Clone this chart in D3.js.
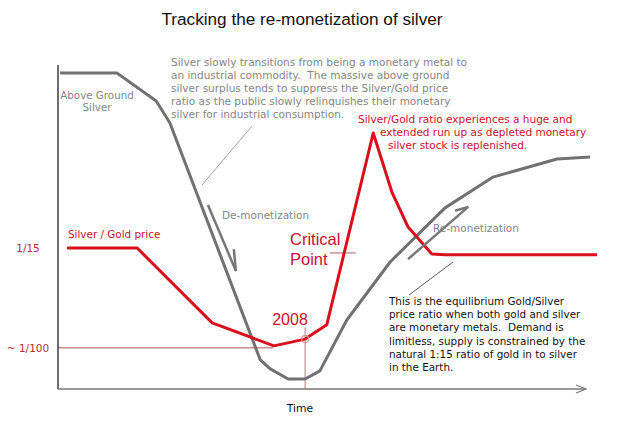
<!DOCTYPE html>
<html>
<head>
<meta charset="utf-8">
<script src="https://cdn.jsdelivr.net/npm/d3@7"></script>
<style>
  body { margin: 0; background: #fff; }
  text { font-family: "DejaVu Sans", Verdana, sans-serif; white-space: pre; }
  text.lib { font-family: "Liberation Sans", Arial, sans-serif; }
</style>
</head>
<body>
<script>
var svgWidth = 620;
var svgHeight = 438;

// above ground silver (gray) - time vs level
var silverTime = [0.4, 11.2, 18.6, 21.2, 38.3, 40.2, 43.6, 46.8, 49.6, 54.7, 62.9, 73.3, 82.4, 94.5, 100.8];
var silverLevel = [97.5, 97.5, 88.9, 82.1, 9.0, 6.2, 3.1, 3.1, 5.6, 21.3, 39.2, 55.9, 65.4, 71.0, 71.6];

// silver / gold price ratio (red)
var ratioTime = [1.7, 15.0, 29.2, 40.9, 46.8, 50.9, 59.7, 63.3, 66.3, 70.8, 73.3, 102.1];
var ratioLevel = [43.5, 43.5, 20.4, 13.3, 15.4, 19.8, 79.0, 60.5, 50.0, 41.7, 41.4, 41.4];

// reference levels on the y axis
var levelValues = [43.5, 12.7];
var levelLabels = ["1/15", "~ 1/100"];

var year2008 = 46.8;
var criticalLevel = 42;

var svg = d3.select('body').append('svg')
    .attr('width', svgWidth)
    .attr('height', svgHeight);

var xScale = d3.scaleLinear().domain([0, 100]).range([58, 586]);
var yScale = d3.scaleLinear().domain([0, 100]).range([389, 65]);

var line = d3.line()
    .x(d => xScale(d[0]))
    .y(d => yScale(d[1]));

// title
svg.append("text")
    .attr("class", "lib")
    .attr("x", 302).attr("y", 25)
    .attr("text-anchor", "middle")
    .attr("font-size", 17.2)
    .attr("fill", "#111")
    .text("Tracking the re-monetization of silver");

// ~1/100 reference line
svg.append("line")
    .attr("x1", xScale(0)).attr("x2", xScale(40.7))
    .attr("y1", yScale(levelValues[1])).attr("y2", yScale(levelValues[1]))
    .attr("stroke", "#a85555").attr("stroke-width", 1);

// 2008 vertical marker
svg.append("line")
    .attr("x1", xScale(year2008)).attr("x2", xScale(year2008))
    .attr("y1", yScale(19)).attr("y2", yScale(0))
    .attr("stroke", "#c99090").attr("stroke-width", 1.2);

// critical point tick
svg.append("line")
    .attr("x1", xScale(51.5)).attr("x2", xScale(56.4))
    .attr("y1", yScale(criticalLevel)).attr("y2", yScale(criticalLevel))
    .attr("stroke", "#d09090").attr("stroke-width", 1.5);

// axes
svg.append("line")
    .attr("x1", xScale(0)).attr("x2", xScale(0))
    .attr("y1", yScale(0)).attr("y2", yScale(100))
    .attr("stroke", "#222").attr("stroke-width", 1.3);

svg.append("line")
    .attr("x1", xScale(0)).attr("x2", xScale(100))
    .attr("y1", yScale(0)).attr("y2", yScale(0))
    .attr("stroke", "#777").attr("stroke-width", 1.5);

svg.append("path")
    .attr("d", `M${xScale(100) - 10},${yScale(0) - 4}L${xScale(100)},${yScale(0)}L${xScale(100) - 10},${yScale(0) + 4}`)
    .attr("fill", "none").attr("stroke", "#777").attr("stroke-width", 1.2);

// level labels
svg.selectAll(".lvl")
    .data(levelValues)
    .enter()
    .append("text")
    .attr("class", "lvl")
    .attr("x", 28)
    .attr("y", d => yScale(d) + 4)
    .attr("text-anchor", "middle")
    .attr("font-size", 10.5)
    .attr("fill", "#b03030")
    .text((d, i) => levelLabels[i]);

// gray silver line
svg.append("path")
    .datum(d3.zip(silverTime, silverLevel))
    .attr("d", line)
    .attr("fill", "none")
    .attr("stroke", "#717171")
    .attr("stroke-width", 3)
    .attr("stroke-linejoin", "round");

// red ratio line
svg.append("path")
    .datum(d3.zip(ratioTime, ratioLevel))
    .attr("d", line)
    .attr("fill", "none")
    .attr("stroke", "#d7101c")
    .attr("stroke-width", 3)
    .attr("stroke-linejoin", "round");

// 2008 circle on the red line
svg.append("circle")
    .attr("cx", xScale(year2008))
    .attr("cy", yScale(ratioLevel[4]))
    .attr("r", 3.5)
    .attr("fill", "none")
    .attr("stroke", "#d89090")
    .attr("stroke-width", 1.2);

// de-monetization / re-monetization arrows
function arrow(t1, v1, t2, v2, bt, bv) {
    svg.append("path")
        .attr("d", `M${xScale(t1)},${yScale(v1)}L${xScale(t2)},${yScale(v2)}L${xScale(bt)},${yScale(bv)}`)
        .attr("fill", "none")
        .attr("stroke", "#777")
        .attr("stroke-width", 2.5);
}
arrow(28.4, 56.8, 33.7, 36.4, 33.3, 43.2);
arrow(66.3, 40.1, 77.7, 56.2, 75.2, 55.0);

// leader lines
svg.append("line")
    .attr("x1", 252).attr("y1", 126).attr("x2", 202).attr("y2", 185)
    .attr("stroke", "#888").attr("stroke-width", 0.8);
svg.append("line")
    .attr("x1", 453).attr("y1", 262).attr("x2", 409).attr("y2", 295)
    .attr("stroke", "#333").attr("stroke-width", 0.8);

function block(x, y0, lines, size, color, step, xs) {
    lines.forEach((s, i) => {
        svg.append("text")
            .attr("x", xs ? xs[i] : x)
            .attr("y", y0 + i * step)
            .attr("font-size", size)
            .attr("fill", color)
            .text(s);
    });
}

// gray annotation
block(171, 66, [
    "Silver slowly transitions from being a monetary metal to",
    "an industrial commodity.  The massive above ground",
    "silver surplus tends to suppress the Silver/Gold price",
    "ratio as the public slowly relinquishes their monetary",
    "silver for industrial consumption."
], 10.5, "#858585", 13);

// above ground silver
svg.append("text").attr("x", 97).attr("y", 99).attr("text-anchor", "middle")
    .attr("font-size", 10.3).attr("fill", "#858585").text("Above Ground");
svg.append("text").attr("x", 97).attr("y", 111).attr("text-anchor", "middle")
    .attr("font-size", 10.3).attr("fill", "#858585").text("Silver");

svg.append("text").attr("x", 222).attr("y", 219)
    .attr("font-size", 10.5).attr("fill", "#858585").text("De-monetization");
svg.append("text").attr("x", 433).attr("y", 232)
    .attr("font-size", 10.5).attr("fill", "#858585").text("Re-monetization");

// red annotation
block(0, 123, [
    "Silver/Gold ratio experiences a huge and",
    "extended run up as depleted monetary",
    "silver stock is replenished."
], 10.5, "#c8102e", 13, [358, 380, 388]);

svg.append("text").attr("x", 68).attr("y", 238)
    .attr("font-size", 10.4).attr("fill", "#c8102e").text("Silver / Gold price");

svg.append("text").attr("class", "lib").attr("x", 290).attr("y", 245)
    .attr("font-size", 16.5).attr("fill", "#c8102e").text("Critical");
svg.append("text").attr("class", "lib").attr("x", 290).attr("y", 265)
    .attr("font-size", 16.5).attr("fill", "#c8102e").text("Point");

svg.append("text").attr("class", "lib").attr("x", 290).attr("y", 325).attr("text-anchor", "middle")
    .attr("font-size", 16).attr("fill", "#c8102e").text("2008");

// black annotation
block(389, 305, [
    "This is the equilibrium Gold/Silver",
    "price ratio when both gold and silver",
    "are monetary metals.  Demand is",
    "limitless, supply is constrained by the",
    "natural 1:15 ratio of gold in to silver",
    "in the Earth."
], 10.4, "#111", 13.2);

svg.append("text").attr("x", 300).attr("y", 412).attr("text-anchor", "middle")
    .attr("font-size", 10.8).attr("fill", "#111").text("Time");
</script>
</body>
</html>
